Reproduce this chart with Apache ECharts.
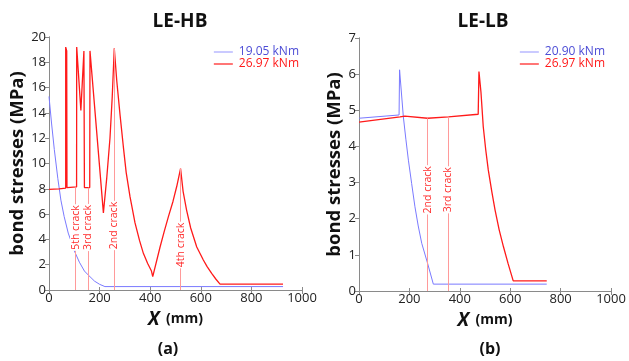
<!DOCTYPE html>
<html>
<head>
<meta charset="utf-8">
<script src="https://cdn.jsdelivr.net/npm/echarts@6/dist/echarts.min.js"></script>
<style>
  html, body { margin: 0; padding: 0; background: #fff; }
  #chart { width: 629px; height: 361px; }
</style>
</head>
<body>
<div id="chart"></div>
<script>
// LE-HB panel (a)
const hbRedX = [0, 40, 66, 66, 70, 71, 109, 109.5, 126, 138, 140, 161, 162, 215, 228, 241, 250, 258, 268, 281, 294, 305, 320, 340, 358, 373, 390, 405, 410, 439, 455, 472, 490, 505, 520, 530, 544, 560, 584, 610, 625, 643, 660, 676, 925];
const hbRedY = [7.95, 8.0, 8.05, 19.2, 18.9, 8.1, 8.15, 19.2, 14.2, 18.9, 8.1, 8.1, 18.9, 6.1, 8.8, 12.0, 15.3, 19.1, 16.5, 13.8, 11.3, 9.3, 7.4, 5.3, 3.9, 2.9, 2.1, 1.5, 1.05, 3.4, 4.6, 5.8, 7.0, 8.2, 9.6, 7.8, 6.3, 4.9, 3.4, 2.37, 1.85, 1.32, 0.85, 0.47, 0.47];
const hbBlueX = [0, 10, 21, 35, 47, 60, 76, 90, 100, 120, 140, 155, 180, 200, 221, 925];
const hbBlueY = [15.3, 13.2, 11.1, 8.8, 7.1, 5.8, 4.5, 3.7, 3.1, 2.2, 1.5, 1.19, 0.7, 0.45, 0.27, 0.27];
const hbCrackX = [105, 154, 258, 520];
const hbCrackTop = [8.1, 8.1, 19.1, 9.6];
const hbCrackLabelY = [4.94, 4.94, 5.1, 3.56];
const hbCrackNames = ['5th crack', '3rd crack', '2nd crack', '4th crack'];

// LE-LB panel (b)
const lbRedX = [0, 163, 182, 272, 355, 473, 476, 484, 493, 503, 513, 527, 540, 556, 573, 592, 612, 745];
const lbRedY = [4.67, 4.82, 4.84, 4.78, 4.82, 4.89, 6.07, 5.5, 4.55, 3.9, 3.35, 2.75, 2.24, 1.7, 1.23, 0.75, 0.28, 0.28];
const lbBlueX = [0, 159, 161, 176, 186, 196, 209, 222, 235, 249, 272, 295, 745];
const lbBlueY = [4.78, 4.87, 6.12, 4.82, 4.2, 3.62, 2.97, 2.33, 1.8, 1.32, 0.77, 0.19, 0.19];
const lbCrackX = [272, 355];
const lbCrackTop = [4.78, 4.82];
const lbCrackLabelY = [2.8, 2.8];
const lbCrackNames = ['2nd crack', '3rd crack'];

const FONT = 'Open Sans';
const RED = '#ff1a1a';
const BLUE = '#7a7aff';
const AXIS = '#8a8a8a';

const zip = (xs, ys) => xs.map((x, i) => [x, ys[i]]);

const chart = echarts.init(document.getElementById('chart'));

const bottomX = (gridIndex) => ({
  type: 'value', gridIndex, min: 0, max: 1000, interval: 200,
  name: '{i|X}  {m|(mm)}', nameLocation: 'middle', nameGap: 16,
  nameTextStyle: {
    rich: {
      i: { fontFamily: FONT, fontSize: 19, fontWeight: 'bold', fontStyle: 'italic', color: '#111' },
      m: { fontFamily: FONT, fontSize: 14, fontWeight: 'bold', color: '#111' }
    }
  },
  axisLine: { lineStyle: { color: AXIS } },
  axisTick: { inside: true, length: 3, lineStyle: { color: AXIS } },
  axisLabel: { fontFamily: FONT, fontSize: 13, color: '#222', margin: 2, formatter: (v) => String(v) },
  splitLine: { show: false }
});

const topX = (gridIndex) => ({
  type: 'value', gridIndex, position: 'top', min: 0, max: 1000, interval: 200,
  axisLine: { lineStyle: { color: AXIS } },
  axisTick: { inside: true, length: 4, lineStyle: { color: AXIS } },
  axisLabel: { show: false },
  splitLine: { show: false }
});

const leftY = (gridIndex, max, nameGap) => ({
  type: 'value', gridIndex, min: 0, max, interval: max > 10 ? 2 : 1,
  name: 'bond stresses (MPa)', nameLocation: 'middle', nameGap,
  nameTextStyle: { fontFamily: FONT, fontSize: 18.5, fontWeight: 'bold', color: '#111' },
  axisLine: { show: true, lineStyle: { color: AXIS } },
  axisTick: { show: true, length: 3, lineStyle: { color: AXIS } },
  axisLabel: { fontFamily: FONT, fontSize: 13, color: '#222', margin: 3 },
  splitLine: { show: false }
});

const rightY = (gridIndex, max) => ({
  type: 'value', gridIndex, position: 'right', min: 0, max, interval: max > 10 ? 2 : 1,
  axisLine: { show: true, lineStyle: { color: AXIS } },
  axisTick: { show: true, inside: true, length: 4, lineStyle: { color: AXIS } },
  axisLabel: { show: false },
  splitLine: { show: false }
});

const curve = (name, color, width, xAxisIndex, data) => ({
  name, type: 'line', xAxisIndex, yAxisIndex: xAxisIndex,
  data, symbol: 'none', lineStyle: { color, width }, itemStyle: { color },
  animation: false, z: 3
});

const crackLines = (xAxisIndex, xs, tops) => ({
  type: 'line', xAxisIndex, yAxisIndex: xAxisIndex, data: [],
  silent: true, animation: false, z: 2,
  markLine: {
    silent: true, symbol: ['none', 'none'], animation: false,
    label: { show: false },
    lineStyle: { color: '#ff9a9a', width: 1, type: 'solid' },
    data: xs.map((x, i) => [{ coord: [x, 0] }, { coord: [x, tops[i]] }])
  }
});

const crackLabels = (xAxisIndex, xs, labelYs, names) => ({
  type: 'scatter', xAxisIndex, yAxisIndex: xAxisIndex,
  symbolSize: 0, itemStyle: { color: '#ff3333', opacity: 1 }, silent: true, animation: false, z: 5,
  data: xs.map((x, i) => ({ value: [x, labelYs[i]], name: names[i] })),
  label: {
    show: true, position: 'inside', rotate: 90, formatter: '{b}',
    fontFamily: FONT, fontSize: 10.5, color: '#ff2a2a', opacity: 1,
    textBorderWidth: 0, backgroundColor: '#ffffff', padding: [0, 1]
  }
});

const legend = (right, blueName) => ({
  orient: 'vertical', right, top: 41, itemWidth: 19, itemHeight: 10, itemGap: 0,
  textStyle: { fontFamily: FONT, fontSize: 12, padding: [0, 0, 0, 1] },
  data: [
    { name: blueName, icon: 'path://M0,4.6 L19,4.6 L19,5.4 L0,5.4 Z', textStyle: { color: '#4d4dd6' } },
    { name: '26.97 kNm', icon: 'path://M0,4.4 L19,4.4 L19,5.6 L0,5.6 Z', textStyle: { color: '#ff1a1a' } }
  ]
});

chart.setOption({
  backgroundColor: '#fff',
  animation: false,
  title: [
    { text: 'LE-HB', left: 175, top: 7, textAlign: 'center', textStyle: { fontFamily: FONT, fontSize: 19, fontWeight: 'bold', color: '#111' } },
    { text: 'LE-LB', left: 478, top: 7, textAlign: 'center', textStyle: { fontFamily: FONT, fontSize: 19, fontWeight: 'bold', color: '#111' } },
    { text: '(a)', left: 163, top: 336, textAlign: 'center', textStyle: { fontFamily: FONT, fontSize: 16, fontWeight: 'bold', color: '#111' } },
    { text: '(b)', left: 485, top: 336, textAlign: 'center', textStyle: { fontFamily: FONT, fontSize: 16, fontWeight: 'bold', color: '#111' } }
  ],
  legend: [legend(325, '19.05 kNm'), legend(19, '20.90 kNm')],
  grid: [
    { left: 49, right: 327, top: 37, bottom: 71 },
    { left: 359, right: 18, top: 38, bottom: 70 }
  ],
  xAxis: [bottomX(0), bottomX(1), topX(0), topX(1)],
  yAxis: [leftY(0, 20, 21), leftY(1, 7, 14), rightY(0, 20), rightY(1, 7)],
  series: [
    crackLines(0, hbCrackX, hbCrackTop),
    curve('19.05 kNm', BLUE, 1, 0, zip(hbBlueX, hbBlueY)),
    curve('26.97 kNm', RED, 1.3, 0, zip(hbRedX, hbRedY)),
    crackLabels(0, hbCrackX, hbCrackLabelY, hbCrackNames),
    crackLines(1, lbCrackX, lbCrackTop),
    curve('20.90 kNm', BLUE, 1, 1, zip(lbBlueX, lbBlueY)),
    curve('26.97 kNm', RED, 1.3, 1, zip(lbRedX, lbRedY)),
    crackLabels(1, lbCrackX, lbCrackLabelY, lbCrackNames)
  ]
});
</script>
</body>
</html>
